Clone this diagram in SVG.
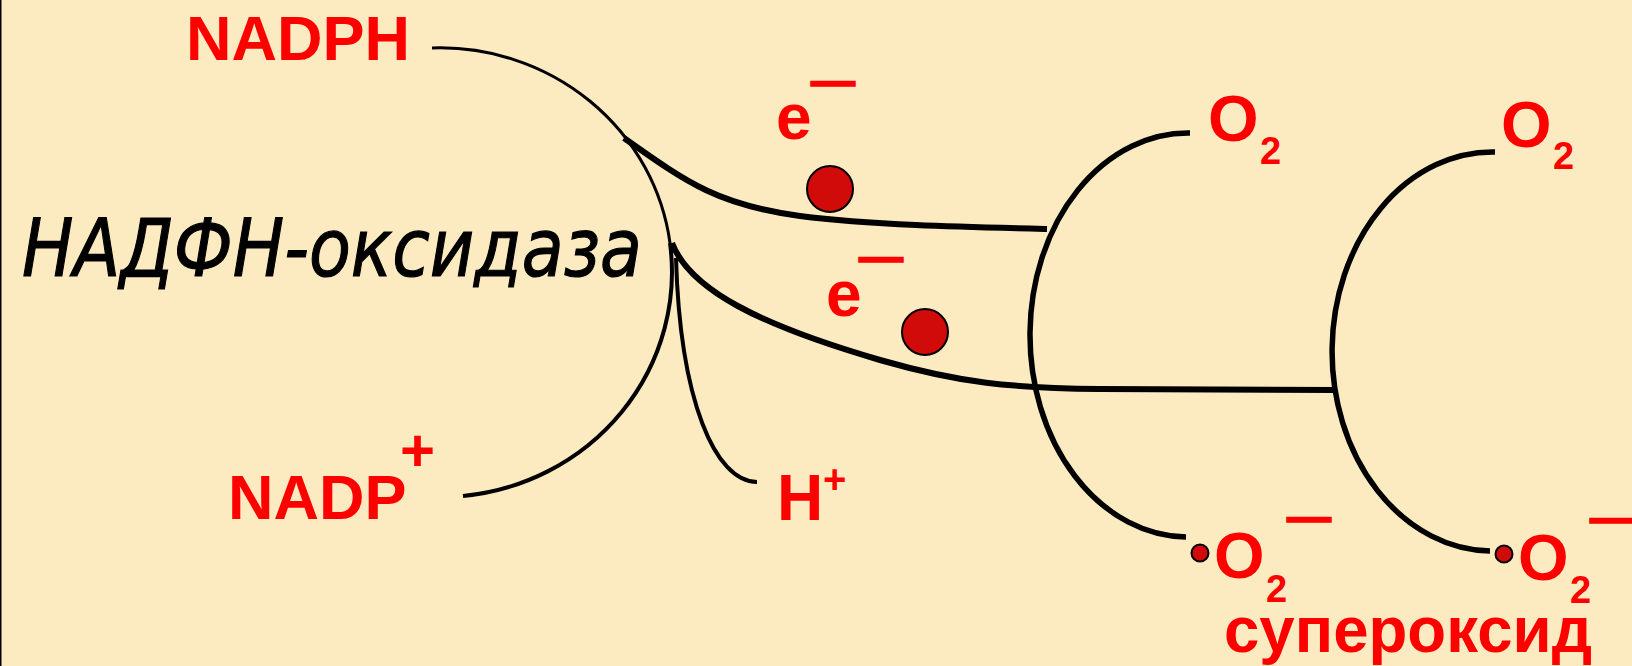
<svg xmlns="http://www.w3.org/2000/svg" width="1632" height="666" viewBox="0 0 1632 666">
<style>
.lbl{font-family:"Liberation Sans",Arial,sans-serif;font-weight:bold;fill:#FF0000}
.dash{font-family:"Liberation Sans",Arial,sans-serif;font-weight:bold;fill:#FF0000;stroke:#FF0000;stroke-width:1.5}
.enz{font-family:"DejaVu Sans",sans-serif;font-style:italic;fill:#000;stroke:#000;stroke-width:1.2}
.ln{fill:none;stroke:#000;stroke-linecap:butt}
.el{fill:#D10A0A;stroke:#000;stroke-width:2}
</style>
<rect x="0" y="0" width="1632" height="666" fill="#FCEBC0"/>
<rect x="0" y="0" width="1.5" height="666" fill="#000"/>
<g id="connectors">
  <path class="ln" stroke-width="3" d="M 432,48 A 232 225 0 0 1 670,243"/>
  <path class="ln" stroke-width="4" d="M 670,243 A 232 225 0 0 1 463,496"/>
  <path class="ln" stroke-width="4" d="M 676,258 C 680,400 715,482 757,482"/>
  <path class="ln" stroke-width="6" d="M 624,138 C 690,185 720,205 800,216 C 870,225 960,227 1047,229"/>
  <path class="ln" stroke-width="6" d="M 672,243 C 690,290 760,325 880,360 C 960,383 1010,388 1100,389 L 1336,390"/>
  <path class="ln" stroke-width="5.5" d="M 1190,133 A 158 202 0 0 0 1186,537"/>
  <path class="ln" stroke-width="5.5" d="M 1495,152 A 160 199 0 0 0 1490,551"/>
</g>
<g id="nadph"><text class="lbl" x="186" y="60" font-size="63">NADPH</text></g>
<g id="enzyme"><text class="enz" x="22" y="276" font-size="80" textLength="620" lengthAdjust="spacingAndGlyphs">НАДФН-оксидаза</text></g>
<g id="nadp"><text class="lbl" x="228" y="519" font-size="63">NADP</text><text class="lbl" x="400" y="471" font-size="60">+</text></g>
<g id="hplus"><text class="lbl" x="777" y="520" font-size="64">H</text><text class="lbl" x="823" y="493" font-size="40">+</text></g>
<g id="e1"><text class="lbl" x="776" y="139" font-size="64">e</text><text class="dash" x="811" y="96" font-size="44">—</text><circle class="el" cx="830" cy="189" r="23"/></g>
<g id="e2"><text class="lbl" x="826" y="316" font-size="64">e</text><text class="dash" x="859" y="272" font-size="44">—</text><circle class="el" cx="925" cy="332" r="23"/></g>
<g id="o2a"><text class="lbl" x="1208" y="141" font-size="65">O</text><text class="lbl" x="1260" y="164" font-size="38">2</text></g>
<g id="o2b"><text class="lbl" x="1501" y="147" font-size="65">O</text><text class="lbl" x="1553" y="169" font-size="38">2</text></g>
<g id="sup1"><circle class="el" cx="1200" cy="553" r="8.5"/><text class="lbl" x="1214" y="578" font-size="65">O</text><text class="lbl" x="1266" y="602" font-size="38">2</text><text class="dash" x="1287" y="532" font-size="44">—</text></g>
<g id="sup2"><circle class="el" cx="1504" cy="554" r="8.5"/><text class="lbl" x="1518" y="580" font-size="65">O</text><text class="lbl" x="1570" y="603" font-size="38">2</text><text class="dash" x="1590" y="533" font-size="44">—</text></g>
<g id="superoxide"><text class="lbl" x="1224" y="652" font-size="64" textLength="368" lengthAdjust="spacingAndGlyphs">супероксид</text></g>
</svg>
